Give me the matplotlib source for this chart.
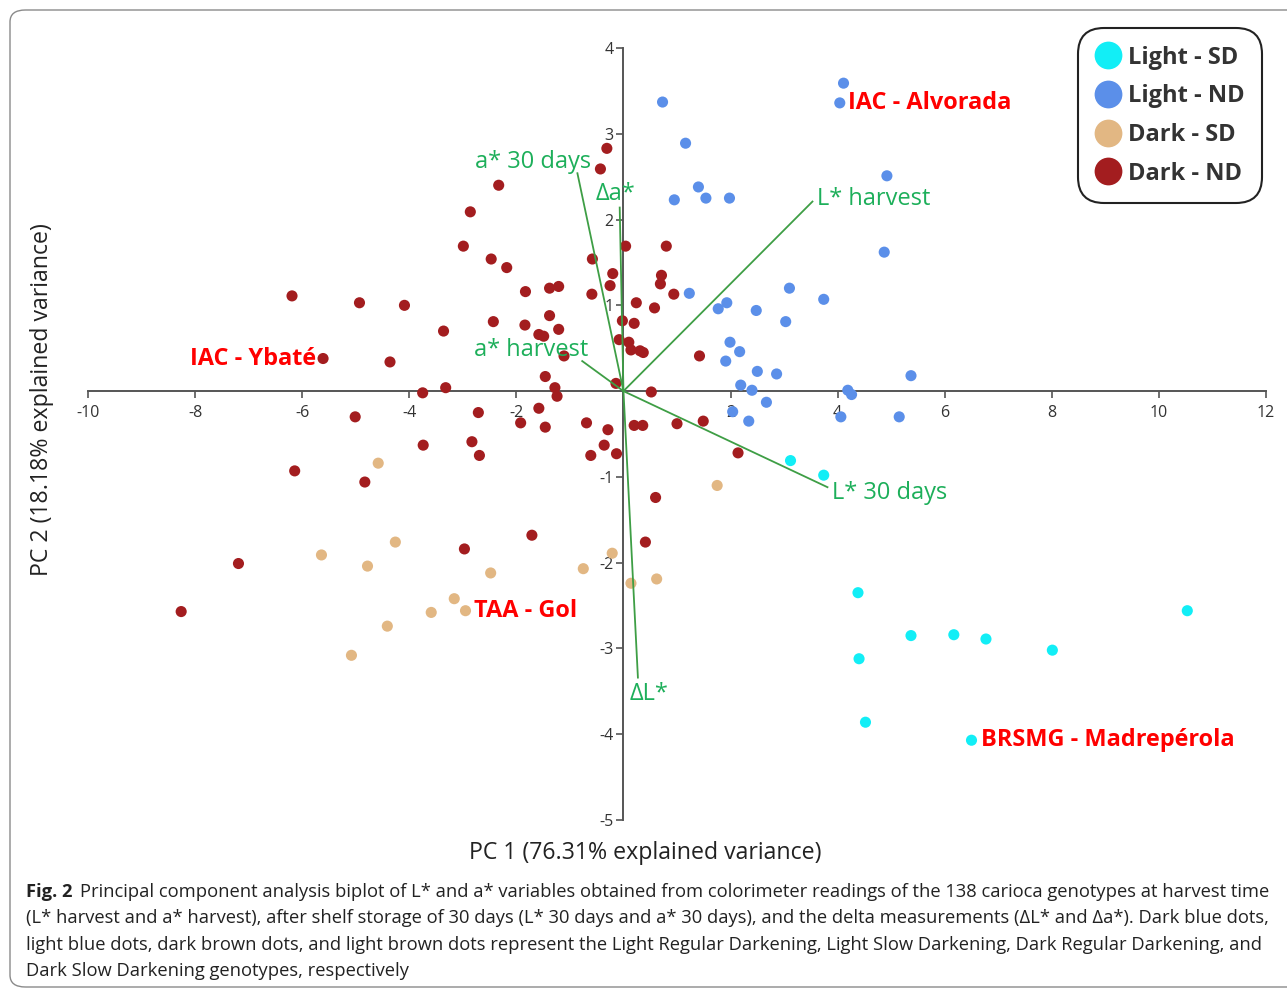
import matplotlib
matplotlib.use("Agg")
import matplotlib.pyplot as plt
from matplotlib import font_manager
from matplotlib.lines import Line2D
from matplotlib.patches import FancyBboxPatch

plt.rcParams['axes.unicode_minus'] = False


def pick_font(names):
    for n in names:
        try:
            font_manager.findfont(n, fallback_to_default=False)
            return n
        except Exception:
            pass
    return 'DejaVu Sans'


SANS = pick_font(['Open Sans', 'Noto Sans', 'DejaVu Sans'])
NARROW = pick_font(['Liberation Sans Narrow', 'Open Sans', 'DejaVu Sans'])

# ---- scores (PC1, PC2) ----
light_sd_x = [3.12, 3.74, 4.38, 10.53, 5.37, 6.17, 6.77, 8.01, 4.40, 4.52, 6.50]
light_sd_y = [-0.81, -0.98, -2.35, -2.56, -2.85, -2.84, -2.89, -3.02, -3.12, -3.86, -4.07]

light_nd_x = [0.73, 4.11, 4.04, 1.16, 4.92, 1.40, 0.95, 1.54, 1.98, 4.87, 1.23, 3.10,
              3.74, 1.77, 1.93, 2.48, 3.03, 1.99, 2.17, 1.91, 2.50, 2.86, 5.37, 2.19,
              2.40, 4.19, 4.26, 2.67, 2.04, 2.34, 4.06, 5.15]
light_nd_y = [3.37, 3.59, 3.36, 2.89, 2.51, 2.38, 2.23, 2.25, 2.25, 1.62, 1.14, 1.20,
              1.07, 0.96, 1.03, 0.94, 0.81, 0.57, 0.46, 0.35, 0.23, 0.20, 0.18, 0.07,
              0.01, 0.01, -0.04, -0.13, -0.24, -0.35, -0.30, -0.30]

dark_sd_x = [-4.58, 1.75, -4.26, -5.64, -4.78, -2.48, -0.75, -0.21, 0.14, 0.62,
             -3.16, -2.95, -3.59, -4.41, -5.08]
dark_sd_y = [-0.84, -1.10, -1.76, -1.91, -2.04, -2.12, -2.07, -1.89, -2.24, -2.19,
             -2.42, -2.56, -2.58, -2.74, -3.08]

dark_nd_x = [-0.31, -0.43, -2.33, -2.86, -2.99, -2.47, -2.18, -6.19, -4.93, -4.09,
             -1.83, -1.38, -1.21, -0.58, -0.20, -0.25, -0.59, 0.04, 0.80, 0.71,
             0.69, 0.94, 0.24, 0.58, -0.02, 0.20, -3.36, -2.43, -1.84, -1.38,
             -1.58, -1.49, -1.21, -0.08, 0.10, 0.14, 0.31, 0.37, 1.42, -1.11,
             -4.36, -5.61, -1.46, -1.28, -1.24, -3.75, -3.32, -0.14, 0.52,
             -5.01, -2.71, -1.58, -1.92, -1.46, -0.69, -0.29, 0.20, 0.36, 1.00,
             1.49, -3.74, -2.83, -2.69, -0.61, -0.36, -0.13, 2.14, -6.14, -4.83,
             0.60, 0.41, -1.71, -2.97, -7.19, -8.26]
dark_nd_y = [2.83, 2.59, 2.40, 2.09, 1.69, 1.54, 1.44, 1.11, 1.03, 1.00,
             1.16, 1.20, 1.22, 1.54, 1.37, 1.23, 1.13, 1.69, 1.69, 1.35,
             1.25, 1.13, 1.03, 0.97, 0.82, 0.79, 0.70, 0.81, 0.77, 0.88,
             0.66, 0.64, 0.72, 0.60, 0.57, 0.48, 0.47, 0.45, 0.41, 0.41,
             0.34, 0.38, 0.17, 0.04, -0.06, -0.02, 0.04, 0.09, -0.01,
             -0.30, -0.25, -0.20, -0.37, -0.42, -0.37, -0.45, -0.40, -0.40, -0.38,
             -0.35, -0.63, -0.59, -0.75, -0.75, -0.63, -0.73, -0.72, -0.93, -1.06,
             -1.24, -1.76, -1.68, -1.84, -2.01, -2.57]

groups = ['Light - SD', 'Light - ND', 'Dark - SD', 'Dark - ND']
colors = ['#12EEF6', '#5B8FE9', '#E2B783', '#A31D1F']

# ---- loading vectors ----
load_names = ['a* 30 days', '\u0394a*', 'L* harvest', 'a* harvest', 'L* 30 days', '\u0394L*']
load_x = [-0.86, -0.07, 3.53, -0.77, 3.81, 0.27]
load_y = [2.54, 2.14, 2.21, 0.35, -1.12, -3.34]

# ---- highlighted genotypes ----
hl_names = ['IAC - Alvorada', 'IAC - Ybat\u00e9', 'TAA - Gol', 'BRSMG - Madrep\u00e9rola']
hl_x = [4.04, -5.61, -2.95, 6.50]
hl_y = [3.36, 0.38, -2.56, -4.07]

W, H = 1287, 991
fig = plt.figure(figsize=(W / 100, H / 100), dpi=100)
ax = fig.add_axes([88 / W, 1 - 820 / H, (1266 - 88) / W, (820 - 48) / H])
ax.set_xlim(-10, 12)
ax.set_ylim(-5, 4)

for sp in ['top', 'right']:
    ax.spines[sp].set_visible(False)
for sp in ['left', 'bottom']:
    ax.spines[sp].set_position(('data', 0))
    ax.spines[sp].set_color('#555555')
    ax.spines[sp].set_linewidth(1.4)

xt = [-10, -8, -6, -4, -2, 2, 4, 6, 8, 10, 12]
yt = [-5, -4, -3, -2, -1, 1, 2, 3, 4]
ax.set_xticks(xt)
ax.set_yticks(yt)
ax.tick_params(axis='both', colors='#555555', labelcolor='#333333', labelsize=11.5,
               length=5, width=1.2)
ax.tick_params(axis='x', pad=5)
ax.tick_params(axis='y', pad=2)
for lab in ax.get_xticklabels() + ax.get_yticklabels():
    lab.set_fontfamily(SANS)

series = [(light_sd_x, light_sd_y), (light_nd_x, light_nd_y),
          (dark_sd_x, dark_sd_y), (dark_nd_x, dark_nd_y)]
for (xs, ys), c in zip(series, colors):
    ax.scatter(xs, ys, s=64, color=c, edgecolors='none', zorder=3)

green_line = '#3E9E45'
green_text = '#1DAF5A'
for lx, ly in zip(load_x, load_y):
    ax.plot([0, lx], [0, ly], color=green_line, lw=1.3, zorder=4)

# label placement offsets (points) relative to the vector tips
load_off = [(-32, 8, 'center'), (-3, 10, 'center'), (3, 2, 'left'),
            (-37, 8, 'center'), (3, -4, 'left'), (8, -12, 'center')]
for name, lx, ly, (dx, dy, ha) in zip(load_names, load_x, load_y, load_off):
    ax.annotate(name, (lx, ly), xytext=(dx, dy), textcoords='offset points',
                ha=ha, va='center', color=green_text, fontsize=17, family=SANS,
                zorder=5)

hl_off = [(6, 0, 'left'), (-5, 0, 'right'), (6, 0, 'left'), (7, 0, 'left')]
for name, hx, hy, (dx, dy, ha) in zip(hl_names, hl_x, hl_y, hl_off):
    ax.annotate(name, (hx, hy), xytext=(dx, dy), textcoords='offset points',
                ha=ha, va='center', color='#FF0000', fontsize=16.9, family=SANS,
                fontweight='bold', zorder=5)

handles = [Line2D([], [], marker='o', ls='', markersize=20, color=c, markeredgewidth=0)
           for c in colors]
leg = fig.legend(handles, groups, loc='upper right',
                 bbox_to_anchor=(1262 / W, 1 - 28 / H), borderaxespad=0,
                 prop={'family': SANS, 'weight': 'bold', 'size': 17},
                 labelcolor='#333333', handletextpad=0.35, labelspacing=0.62,
                 borderpad=0.75, handlelength=1.0, fancybox=True, framealpha=1)
leg.get_frame().set_edgecolor('#222222')
leg.get_frame().set_linewidth(1.5)
leg.get_frame().set_boxstyle('round,pad=0,rounding_size=1.1')

fig.text(645 / W, 1 - 853 / H, 'PC 1 (76.31% explained variance)', ha='center',
         va='center', fontsize=16.7, family=NARROW, color='#222222')
fig.text(42 / W, 1 - 400 / H, 'PC 2 (18.18% explained variance)', ha='center',
         va='center', rotation=90, fontsize=16.7, family=NARROW, color='#222222')

# caption
cap_lines = [
    'Principal component analysis biplot of L* and a* variables obtained from colorimeter readings of the 138 carioca genotypes at harvest time',
    '(L* harvest and a* harvest), after shelf storage of 30 days (L* 30 days and a* 30 days), and the delta measurements (\u0394L* and \u0394a*). Dark blue dots,',
    'light blue dots, dark brown dots, and light brown dots represent the Light Regular Darkening, Light Slow Darkening, Dark Regular Darkening, and',
    'Dark Slow Darkening genotypes, respectively',
]
cap_y = [892, 918, 945, 971]
cap_size = 13.25
fig.canvas.draw()
renderer = fig.canvas.get_renderer()
fig_lbl = fig.text(26 / W, 1 - cap_y[0] / H, 'Fig. 2', fontsize=cap_size, family=NARROW,
                   fontweight='bold', va='center', color='#222222')
bb = fig_lbl.get_window_extent(renderer)
first_x = (bb.x1 + 8) / W
for i, (line, yy) in enumerate(zip(cap_lines, cap_y)):
    x0 = first_x if i == 0 else 26 / W
    fig.text(x0, 1 - yy / H, line, fontsize=cap_size, family=NARROW,
             va='center', color='#222222')

fig.patches.append(FancyBboxPatch((10 / W, 4 / H), 1.2, (H - 14) / H,
                                  boxstyle='round,pad=0,rounding_size=0.012',
                                  transform=fig.transFigure, fill=False,
                                  edgecolor='#8A8A8A', lw=1.0))

fig.savefig('out.png', dpi=100)
